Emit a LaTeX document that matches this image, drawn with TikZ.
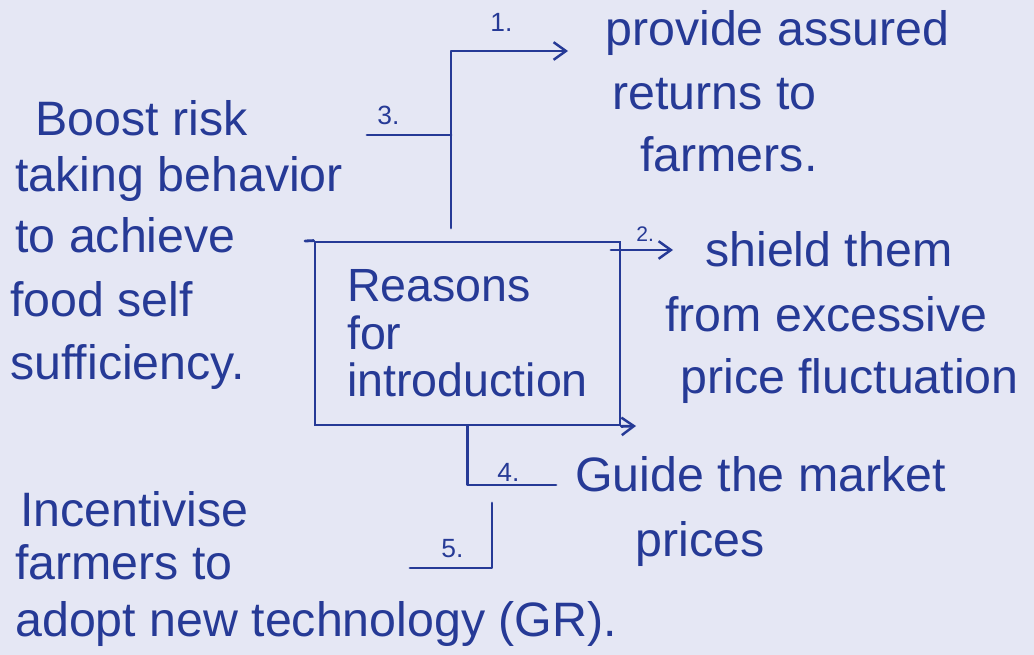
\documentclass[tikz,border=0pt]{standalone}
\usepackage{fontspec}
\setmainfont{Liberation Sans}
\usetikzlibrary{arrows.meta}
\definecolor{ink}{RGB}{38,58,150}
\definecolor{paper}{RGB}{229,231,244}
\begin{document}
\begin{tikzpicture}[x=0.02cm,y=-0.02cm,
  txt/.style={anchor=base west, inner sep=0pt, text=ink, font=\fontsize{27.5}{31}\selectfont},
  num/.style={anchor=base west, inner sep=0pt, text=ink, font=\fontsize{15}{17}\selectfont},
  ln/.style={draw=ink, line width=1.6pt, line cap=round, line join=round},
  arr/.style={ln, -{Straight Barb[length=7pt,width=10pt,line width=1.4pt]}},
  boxstyle/.style={draw=ink, line width=1.6pt, minimum width=6.1cm, minimum height=3.66cm,
    align=left, text=ink, font=\fontsize{26.5}{27}\selectfont},
]
\fill[paper] (0,0) rectangle (1034,655);
\useasboundingbox (0,0) rectangle (1034,655);

% central box
\node (box) [boxstyle] at (467.5,333.5) {Reasons\\for\\introduction};
\coordinate (tl) at (305,241);
\coordinate (be) at (636,426);
\draw[ln] (box.north west) -- (tl);
\draw[arr] (box.south east) -- (be);

% branch 1 and 3 (top)
\coordinate (t0) at (451,228);
\coordinate (t1) at (568,51);
\draw[arr] (t0) |- (t1);
\node[num] (n1) at (490,32) {1.};
\coordinate (c3) at (367,135);
\draw[ln] (c3) -- (c3 -| t0);
\node[num] (n3) at (377,125) {3.};

% branch 2
\coordinate (c2a) at (611,250);
\coordinate (c2b) at (673,250);
\draw[arr] (c2a) -- (c2b);
\node[num, font=\fontsize{12}{14}\selectfont] (n2) at (636,241) {2.};

% branch 4 and 5 (bottom)
\coordinate (c4) at (556,485);
\draw[ln] (box.south) |- (c4);
\node[num] (n4) at (497,481) {4.};
\coordinate (c5a) at (492,503);
\coordinate (c5b) at (410,568);
\draw[ln] (c5a) |- (c5b);
\node[num] (n5) at (441,557) {5.};

% texts
\node[txt] (p1) at (605,46) {provide assured};
\node[txt] (p2) at (612,110) {returns to};
\node[txt] (p3) at (640,172) {farmers.};

\node[txt] (l1) at (35,136) {Boost risk};
\node[txt] (l2) at (15,192) {taking behavior};
\node[txt] (l3) at (15,253) {to achieve};
\node[txt] (l4) at (10,316) {food self};
\node[txt] (l5) at (10,379) {sufficiency.};

\node[txt] (s1) at (705,266) {shield them};
\node[txt] (s2) at (665,331) {from excessive};
\node[txt] (s3) at (680,393) {price fluctuation};

\node[txt] (g1) at (575,491) {Guide the market};
\node[txt] (g2) at (635,556) {prices};

\node[txt] (i1) at (20,526) {Incentivise};
\node[txt] (i2) at (15,579) {farmers to};
\node[txt] (i3) at (15,636) {adopt new technology (GR).};
\end{tikzpicture}
\end{document}
